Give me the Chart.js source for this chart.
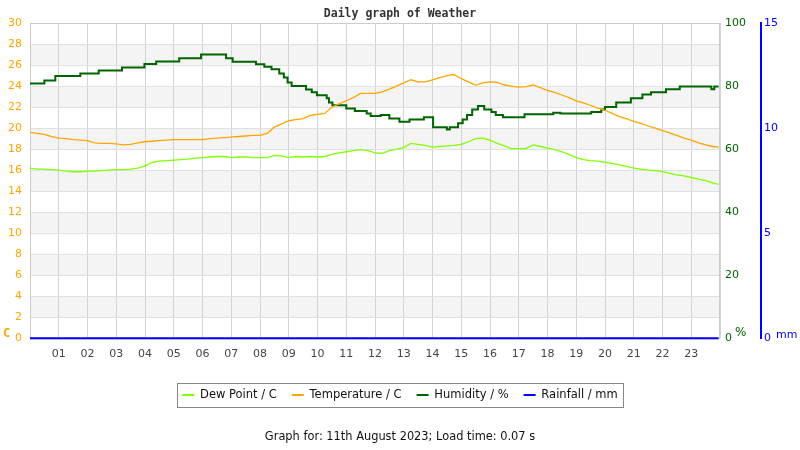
<!DOCTYPE html>
<html>
<head>
<meta charset="utf-8">
<script src="https://cdn.jsdelivr.net/npm/chart.js@4.4.0/dist/chart.umd.min.js"></script>
<style>
  html, body { margin: 0; padding: 0; background: #fff; }
  #wrap { width: 800px; height: 450px; }
</style>
</head>
<body>
<div id="wrap"><canvas id="grafico" width="800" height="450"></canvas></div>
<script>
// horas (decimal) das leituras de 15 em 15 minutos
const times = [
  0, 0.25, 0.5, 0.75, 1, 1.25, 1.5, 1.75,
  2, 2.25, 2.5, 2.75, 3, 3.25, 3.5, 3.75,
  4, 4.25, 4.5, 4.75, 5, 5.25, 5.5, 5.75,
  6, 6.25, 6.5, 6.75, 7, 7.25, 7.5, 7.75,
  8, 8.25, 8.5, 8.75, 9, 9.25, 9.5, 9.75,
  10, 10.25, 10.5, 10.75, 11, 11.25, 11.5, 11.75,
  12, 12.25, 12.5, 12.75, 13, 13.25, 13.5, 13.75,
  14, 14.25, 14.5, 14.75, 15, 15.25, 15.5, 15.75,
  16, 16.25, 16.5, 16.75, 17, 17.25, 17.5, 17.75,
  18, 18.25, 18.5, 18.75, 19, 19.25, 19.5, 19.75,
  20, 20.25, 20.5, 20.75, 21, 21.25, 21.5, 21.75,
  22, 22.25, 22.5, 22.75, 23, 23.25, 23.5, 23.75,
  23.95
];

const temperature = [
  19.6, 19.5, 19.4, 19.2, 19.05, 19.0, 18.9, 18.85,
  18.8, 18.6, 18.55, 18.55, 18.5, 18.4, 18.45, 18.6,
  18.7, 18.75, 18.8, 18.85, 18.9, 18.9, 18.9, 18.9,
  18.9, 19.0, 19.05, 19.1, 19.15, 19.2, 19.25, 19.3,
  19.3, 19.5, 20.1, 20.4, 20.7, 20.8, 20.9, 21.2,
  21.3, 21.4, 22.0, 22.3, 22.6, 22.9, 23.3, 23.3,
  23.3, 23.45, 23.7, 24.0, 24.3, 24.6, 24.4, 24.4,
  24.6, 24.8, 25.0, 25.1, 24.7, 24.4, 24.1, 24.3,
  24.4, 24.35, 24.1, 24.0, 23.9, 23.95, 24.1, 23.85,
  23.6, 23.4, 23.15, 22.9, 22.6, 22.4, 22.15, 21.9,
  21.7, 21.4, 21.1, 20.9, 20.65, 20.45, 20.2, 20.0,
  19.75, 19.55, 19.3, 19.05, 18.85, 18.6, 18.4, 18.25,
  18.2
];

const dewPoint = [
  16.2, 16.1, 16.1, 16.05, 16.0, 15.9, 15.85, 15.85,
  15.9, 15.9, 15.95, 16.0, 16.05, 16.05, 16.1, 16.2,
  16.4, 16.75, 16.85, 16.9, 16.95, 17.0, 17.05, 17.15,
  17.2, 17.25, 17.3, 17.3, 17.2, 17.25, 17.25, 17.2,
  17.2, 17.2, 17.4, 17.35, 17.2, 17.3, 17.25, 17.3,
  17.25, 17.3, 17.5, 17.65, 17.75, 17.85, 17.95, 17.85,
  17.65, 17.6, 17.85, 18.0, 18.15, 18.55, 18.45, 18.35,
  18.2, 18.25, 18.3, 18.35, 18.45, 18.7, 19.0, 19.05,
  18.85, 18.55, 18.3, 18.05, 18.05, 18.05, 18.4, 18.25,
  18.1, 17.95, 17.75, 17.5, 17.2, 17.0, 16.9, 16.85,
  16.75, 16.65, 16.5, 16.35, 16.2, 16.1, 16.0, 15.95,
  15.85, 15.7, 15.55, 15.45, 15.3, 15.15, 15.0, 14.8,
  14.65
];

// umidade: instantes em que o valor muda (degraus)
const humTimes = [
  0, 0.5, 0.88, 1.75, 2.39, 3.2, 3.98, 4.39, 5.19, 5.95,
  6.82, 7.05, 7.86, 8.15, 8.4, 8.67, 8.83, 8.96, 9.1, 9.6,
  9.8, 9.98, 10.32, 10.4, 10.52, 11.0, 11.3, 11.71, 11.85, 12.2,
  12.5, 12.85, 13.2, 13.7, 14.02, 14.5, 14.6, 14.89, 15.05, 15.2,
  15.38, 15.58, 15.8, 16.05, 16.2, 16.45, 17.2, 18.2, 18.45, 19.52,
  19.87, 20.0, 20.39, 20.9, 21.3, 21.6, 22.12, 22.6, 23.7, 23.8,
  23.95
];
const humidity = [
  80.8, 81.8, 83.2, 84.0, 84.9, 85.9, 87.0, 87.8, 88.8, 90.0,
  88.8, 87.7, 86.9, 86.1, 85.3, 84.0, 82.7, 81.1, 80.0, 78.9,
  78.0, 77.1, 76.1, 74.8, 73.9, 72.9, 72.1, 71.3, 70.5, 70.8,
  69.7, 68.7, 69.4, 70.1, 66.9, 66.2, 66.9, 68.2, 69.4, 70.8,
  72.6, 73.7, 72.6, 71.8, 70.8, 70.1, 71.1, 71.5, 71.3, 71.8,
  72.6, 73.4, 74.8, 76.1, 77.3, 78.0, 79.0, 79.9, 79.0, 79.9,
  79.9
];

const rainTimes = [0, 6, 12, 18, 23.95];
const rainfall = [0, 0, 0, 0, 0];

const hourLabels = [
  "01", "02", "03", "04", "05", "06", "07", "08", "09", "10", "11", "12",
  "13", "14", "15", "16", "17", "18", "19", "20", "21", "22", "23"
];

const seriesNames = ["Dew Point / C", "Temperature / C", "Humidity / %", "Rainfall / mm"];

const pares = (xs, ys) => xs.map((x, i) => ({ x: x, y: ys[i] }));

// faixas cinzentas alternadas no fundo
const faixas = {
  id: "faixas",
  beforeDraw(chart) {
    const { ctx, chartArea: a } = chart;
    const y = chart.scales.yTemp;
    ctx.save();
    ctx.fillStyle = "#f4f4f4";
    for (let v = 2; v < 30; v += 4) {
      const topo = y.getPixelForValue(v + 2);
      const base = y.getPixelForValue(v);
      ctx.fillRect(a.left, topo, a.right - a.left, base - topo);
    }
    ctx.restore();
  },
  beforeDatasetsDraw(chart) {
    const { ctx, chartArea: a } = chart;
    ctx.save();
    ctx.strokeStyle = "#cccccc";
    ctx.lineWidth = 1;
    ctx.strokeRect(a.left + 0.5, a.top + 0.5, a.right - a.left - 1, a.bottom - a.top);
    ctx.restore();
  },
  afterDraw(chart) {
    const { ctx } = chart;
    const yT = chart.scales.yTemp, yH = chart.scales.yHum, yR = chart.scales.yRain;
    ctx.save();
    ctx.textBaseline = "alphabetic";
    ctx.textAlign = "left";
    ctx.font = "bold 12px 'DejaVu Sans Mono'";
    ctx.fillStyle = "#ffa500";
    ctx.fillText("C", yT.left + 3, yT.bottom - 1);
    ctx.font = "12px 'DejaVu Sans'";
    ctx.fillStyle = "#006400";
    ctx.fillText("%", yH.left + 15, yH.bottom - 2);
    ctx.font = "11px 'DejaVu Sans'";
    ctx.fillStyle = "#0000ff";
    ctx.fillText("mm", yR.left + 15, yR.bottom);

    // moldura da legenda
    const caixas = chart.legend.legendHitBoxes;
    if (caixas && caixas.length) {
      const primeira = caixas[0], ultima = caixas[caixas.length - 1];
      const x0 = Math.round(primeira.left - 5) + 0.5;
      const x1 = Math.round(ultima.left + ultima.width + 5) + 0.5;
      const y0 = Math.round(primeira.top - 6) + 0.5;
      const y1 = Math.round(primeira.top + primeira.height + 6) + 0.5;
      ctx.strokeStyle = "#888888";
      ctx.lineWidth = 1;
      ctx.strokeRect(x0, y0, x1 - x0, y1 - y0);
    }
    ctx.restore();
  }
};

const ctx = document.getElementById("grafico").getContext("2d");

new Chart(ctx, {
  type: "line",
  data: {
    datasets: [
      {
        label: seriesNames[0],
        data: pares(times, dewPoint),
        borderColor: "#80ff00",
        borderWidth: 1.3,
        yAxisID: "yTemp"
      },
      {
        label: seriesNames[1],
        data: pares(times, temperature),
        borderColor: "#ffa500",
        borderWidth: 1.3,
        yAxisID: "yTemp"
      },
      {
        label: seriesNames[2],
        data: pares(humTimes, humidity),
        borderColor: "#006400",
        borderWidth: 2,
        stepped: true,
        yAxisID: "yHum"
      },
      {
        label: seriesNames[3],
        data: pares(rainTimes, rainfall),
        borderColor: "#0000ff",
        borderWidth: 2,
        clip: 4,
        yAxisID: "yRain"
      }
    ]
  },
  options: {
    responsive: false,
    animation: false,
    devicePixelRatio: 1,
    layout: { padding: { left: 0, right: 0, top: 0, bottom: 0 } },
    elements: {
      point: { radius: 0 },
      line: { tension: 0, fill: false }
    },
    plugins: {
      tooltip: { enabled: false },
      title: {
        display: true,
        text: "Daily graph of Weather",
        color: "#333333",
        font: { family: "'DejaVu Sans Mono'", size: 11.5, weight: "bold", lineHeight: 1.2 },
        padding: { top: 7, bottom: 2.2 }
      },
      subtitle: {
        display: true,
        position: "bottom",
        text: "Graph for: 11th August 2023; Load time: 0.07 s",
        color: "#111111",
        font: { family: "'DejaVu Sans'", size: 11.4, lineHeight: 1.2 },
        padding: { top: 19.5, bottom: 6 }
      },
      legend: {
        position: "bottom",
        labels: {
          usePointStyle: true,
          pointStyle: "line",
          pointStyleWidth: 12,
          padding: 15,
          color: "#111111",
          font: { family: "'DejaVu Sans'", size: 11.5 },
          generateLabels(chart) {
            const itens = Chart.defaults.plugins.legend.labels.generateLabels(chart);
            itens.forEach(it => { it.lineWidth = 2; });
            return itens;
          }
        }
      }
    },
    scales: {
      x: {
        type: "linear",
        min: 0,
        max: 24,
        afterFit(scale) { scale.height = 36; },
        grid: { color: "#d3d3d3", drawTicks: false },
        border: { display: false },
        ticks: {
          stepSize: 1,
          padding: 9,
          color: "#444444",
          font: { family: "'DejaVu Sans'", size: 11 },
          maxRotation: 0,
          autoSkip: false,
          callback: (v) => hourLabels[v - 1] || ""
        }
      },
      yTemp: {
        type: "linear",
        position: "left",
        min: 0,
        max: 30,
        afterFit(scale) { scale.width = 30; },
        grid: { color: "#e0e0e0", drawTicks: false },
        border: { display: false },
        ticks: {
          stepSize: 2,
          padding: 8,
          color: "#ffa500",
          font: { family: "'DejaVu Sans'", size: 11 }
        }
      },
      yHum: {
        type: "linear",
        position: "right",
        weight: 0,
        min: 0,
        max: 100,
        afterFit(scale) { scale.width = 41; },
        grid: { display: false, drawTicks: false },
        border: { display: false },
        ticks: {
          stepSize: 20,
          padding: 5,
          color: "#006400",
          font: { family: "'DejaVu Sans'", size: 11 }
        }
      },
      yRain: {
        type: "linear",
        position: "right",
        weight: 1,
        min: 0,
        max: 15,
        afterFit(scale) { scale.width = 39; },
        grid: { display: false, drawTicks: false },
        border: { display: true, color: "#0000ff", width: 2 },
        ticks: {
          stepSize: 5,
          padding: 3,
          color: "#0000ff",
          font: { family: "'DejaVu Sans'", size: 11 }
        }
      }
    }
  },
  plugins: [faixas]
});
</script>
</body>
</html>
